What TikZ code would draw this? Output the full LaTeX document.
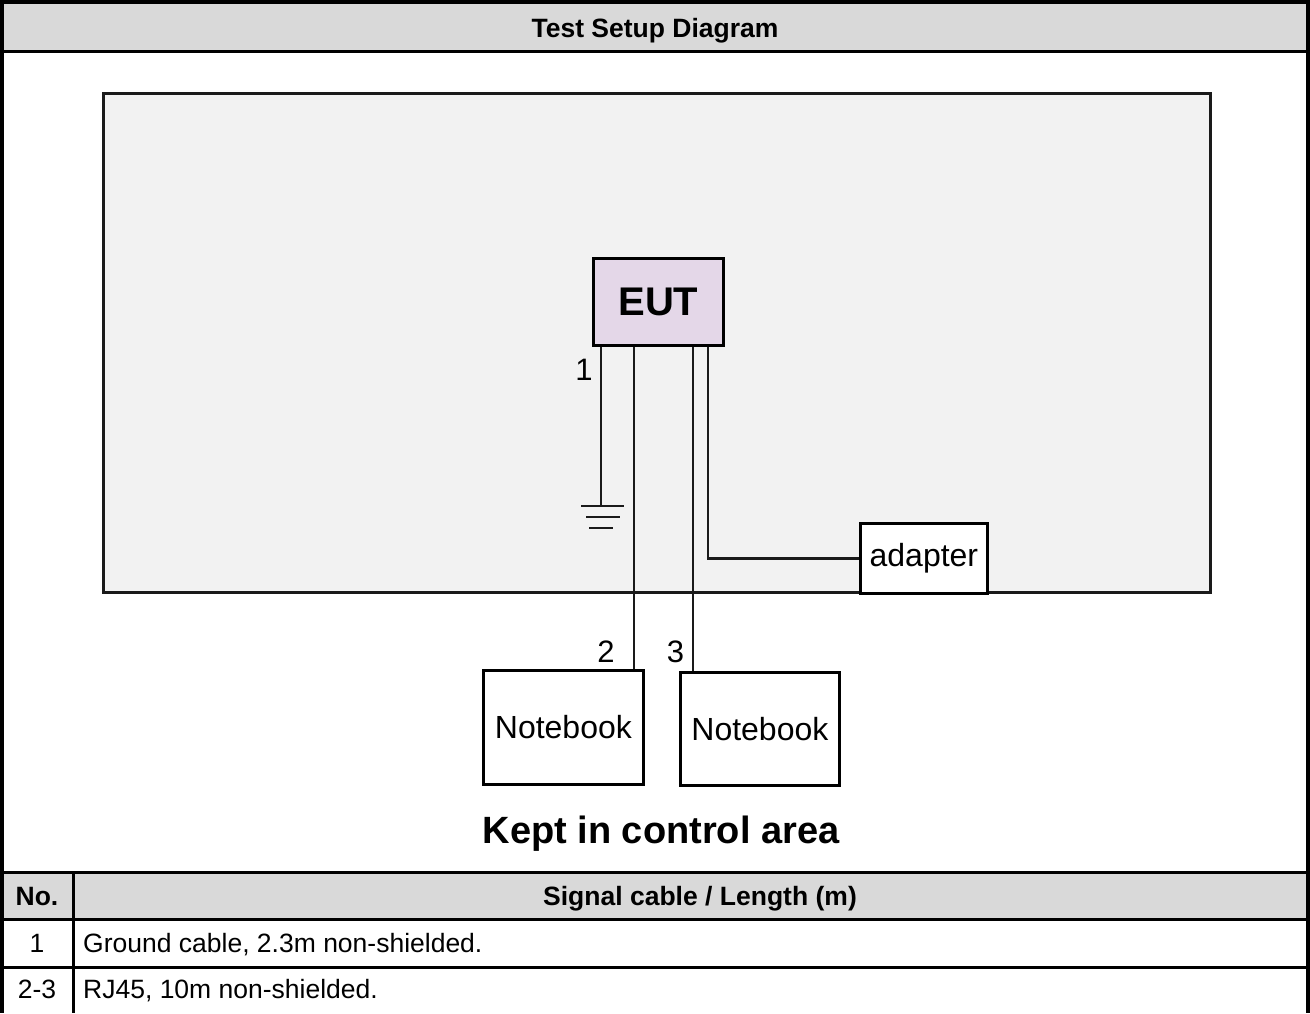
\documentclass[tikz,border=0pt]{standalone}
\usepackage{fontspec}
\setmainfont{Liberation Sans}
\definecolor{hdr}{HTML}{D9D9D9}
\definecolor{roomfill}{HTML}{F2F2F2}
\definecolor{eutfill}{RGB}{228,215,232}
\definecolor{wirecol}{HTML}{1A1A1A}
\begin{document}
\begin{tikzpicture}[x=1pt,y=-1pt,
  frame/.style={line width=3.5pt},
  gridline/.style={line width=3pt},
  wire/.style={line width=2.4pt, draw=wirecol},
  box/.style={draw, line width=2.8pt, inner sep=0pt, anchor=north west, fill=white},
  boxtext/.style={font=\fontsize{32}{32}\selectfont},
  lbl/.style={font=\fontsize{31}{31}\selectfont, anchor=base, inner sep=0pt},
  tabtext/.style={font=\fontsize{26.5}{26.5}\selectfont, anchor=base, inner sep=0pt},
  tabhead/.style={font=\fontsize{26.5}{26.5}\selectfont\bfseries, anchor=base, inner sep=0pt}
]
\useasboundingbox (0,0) rectangle (1310,1013);
% header band and table header fills
\fill[hdr] (0,0) rectangle (1310,51);
\fill[hdr] (0,872) rectangle (1310,919);
% room
\draw[line width=3pt, draw=wirecol, fill=roomfill] (103,93) rectangle (1210,592);
% boxes
\node[box, fill=eutfill, minimum width=130pt, minimum height=87pt,
      font=\fontsize{40}{40}\selectfont\bfseries] (eut) at (592,257) {EUT};
\node[box, minimum width=160pt, minimum height=114pt, boxtext] (nbA) at (482,669) {Notebook};
\node[box, minimum width=159pt, minimum height=113pt, boxtext] (nbB) at (679,671) {Notebook};
\coordinate (gnd) at (601,506);
% wires
\draw[wire] ([xshift=9pt]eut.south west) -- (gnd);
\draw[wire] ([xshift=42pt]eut.south west) -- ([xshift=42pt]eut.south west |- nbA.north);
\draw[wire] ([xshift=101pt]eut.south west) -- ([xshift=101pt]eut.south west |- nbB.north);
\node[box, minimum width=127pt, minimum height=70pt, boxtext] (adp) at (859,522) {adapter};
\draw[wire] ([xshift=116pt]eut.south west) |- (adp.west);
% ground symbol
\draw[wire] ([xshift=-20pt]gnd) -- ([xshift=23pt]gnd);
\draw[wire] ([xshift=-15pt,yshift=-11pt]gnd) -- ([xshift=19pt,yshift=-11pt]gnd);
\draw[wire] ([xshift=-12pt,yshift=-22pt]gnd) -- ([xshift=12pt,yshift=-22pt]gnd);
% labels
\node[lbl] (l1) at (584,380) {1};
\node[lbl] (l2) at (606,662) {2};
\node[lbl] (l3) at (675.5,662) {3};
\node[anchor=base, inner sep=0pt, font=\fontsize{38}{38}\selectfont\bfseries] (kept) at (661,843) {Kept in control area};
% table texts
\node[tabhead] (title) at (655,37) {Test Setup Diagram};
\node[tabhead] (hno) at (37,905) {No.};
\node[tabhead] (hsig) at (700,905) {Signal cable / Length (m)};
\node[tabtext] (n1) at (37,952) {1};
\node[tabtext, anchor=base west] (t1) at (83,952) {Ground cable, 2.3m non-shielded.};
\node[tabtext] (n2) at (37,998) {2-3};
\node[tabtext, anchor=base west] (t2) at (83,998) {RJ45, 10m non-shielded.};
% grid lines
\draw[gridline] (0,51) -- (1310,51);
\draw[gridline] (0,872) -- (1310,872);
\draw[gridline] (0,919.5) -- (1310,919.5);
\draw[gridline] (0,967) -- (1310,967);
\draw[gridline] (73,872) -- (73,1013);
\draw[frame] (0,2) -- (1310,2);
\draw[frame] (1.75,0) -- (1.75,1013);
\draw[frame] (1308,0) -- (1308,1013);
\end{tikzpicture}
\end{document}
